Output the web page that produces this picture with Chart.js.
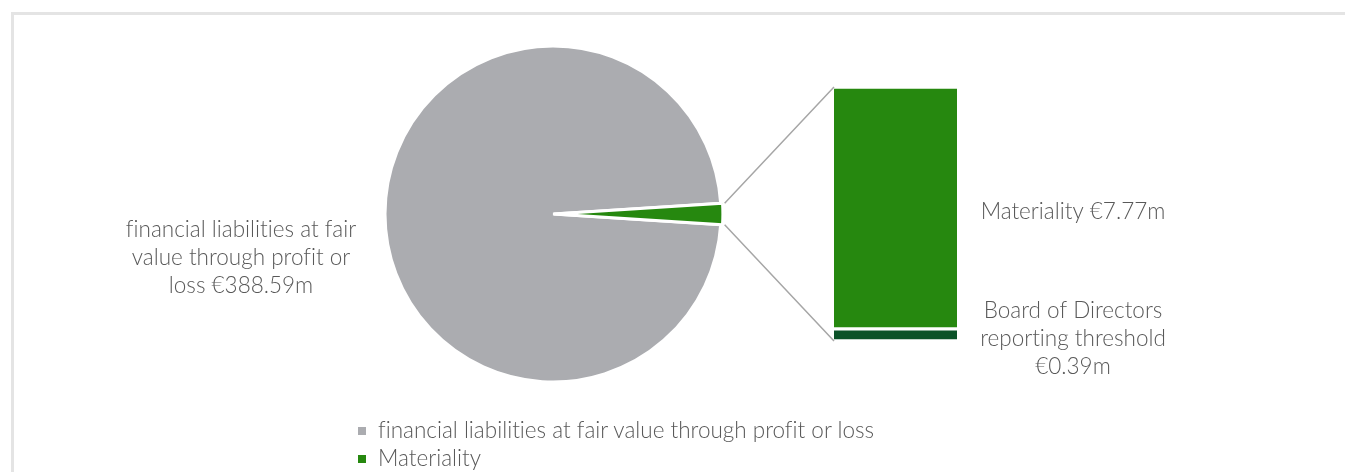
<!DOCTYPE html>
<html>
<head>
<meta charset="utf-8">
<script src="https://cdn.jsdelivr.net/npm/chart.js@4.4.1/dist/chart.umd.min.js"></script>
<style>
  html, body { margin: 0; padding: 0; background: #fff; overflow: hidden; }
  body { width: 1345px; height: 472px; position: relative; font-family: Lato, "Open Sans", sans-serif; }
  #frame { position: absolute; left: 11px; top: 12px; width: 1400px; height: 500px;
           border-top: 3px solid #e4e4e4; border-left: 3px solid #e4e4e4; }
  canvas { position: absolute; left: 0; top: 0; }
  #legend { position: absolute; left: 358px; top: 416px; font-weight: 300; font-size: 22.5px; color: #595959;
            font-variant-ligatures: none; }
  #legend div { height: 28px; line-height: 28px; white-space: nowrap; }
  #legend span { display: inline-block; width: 8px; height: 8px; margin-right: 12px; vertical-align: middle; position: relative; top: -1px; }
</style>
</head>
<body>
<div id="frame"></div>
<canvas id="pieChart" width="1345" height="472"></canvas>
<canvas id="barChart" width="1345" height="472"></canvas>
<div id="legend"></div>
<script>
// pie part
var pieLabels = ['financial liabilities at fair value through profit or loss', 'Materiality'];
var pieValues = [388.59, 8.16]; // second slice = sum of the bar below
var pieColors = ['#abacb0', '#26880f'];
var pieText = ['financial liabilities at fair', 'value through profit or', 'loss €388.59m'];

// bar part (stacked, bottom first)
var barLabels = ['Board of Directors reporting threshold', 'Materiality'];
var barValues = [0.39, 7.77];
var barColors = ['#0b5228', '#26880f'];
var barText = [['Board of Directors', 'reporting threshold', '€0.39m'], ['Materiality €7.77m']];

var textColor = '#595959';
var textFont = '300 22.5px Lato, "Open Sans", sans-serif';

var pieTotal = pieValues[0] + pieValues[1];
var barTotal = barValues[0] + barValues[1];
var greenAngle = 360 * pieValues[1] / pieTotal;

function drawLines(ctx, lines, x, y, gap) {
    var start = y - (lines.length - 1) * gap / 2;
    lines.forEach(function (t, i) {
        ctx.fillText(t, x, start + i * gap);
    });
}

function setText(ctx) {
    ctx.font = textFont;
    ctx.fillStyle = textColor;
    ctx.textAlign = 'center';
    ctx.textBaseline = 'middle';
    ctx.textRendering = 'optimizeSpeed'; // no ligatures
}

var pieTextPlugin = {
    id: 'pieText',
    afterDatasetsDraw: function (chart) {
        var arc = chart.getDatasetMeta(0).data[0];
        var ctx = chart.ctx;
        ctx.save();
        setText(ctx);
        drawLines(ctx, pieText, arc.x - 312, arc.y + 44, 28);
        ctx.restore();
    }
};

var pieChart = new Chart(document.getElementById('pieChart').getContext('2d'), {
    type: 'pie',
    data: {
        labels: pieLabels,
        datasets: [{
            data: pieValues,
            backgroundColor: pieColors,
            borderColor: '#ffffff',
            borderWidth: 3,
            offset: [0, 4]
        }]
    },
    options: {
        responsive: false,
        animation: false,
        radius: 168,
        rotation: 90 + greenAngle / 2,
        layout: { padding: { left: 0, right: 239, top: 0, bottom: 44 } },
        plugins: { legend: { display: false }, tooltip: { enabled: false } }
    },
    plugins: [pieTextPlugin]
});

var connectorPlugin = {
    id: 'connector',
    afterDatasetsDraw: function (chart) {
        var ctx = chart.ctx;
        var arc = pieChart.getDatasetMeta(0).data[1];
        var p = arc.getProps(['x', 'y', 'startAngle', 'endAngle', 'outerRadius']);
        var mid = (p.startAngle + p.endAngle) / 2;
        var ox = p.x + 4 * Math.cos(mid), oy = p.y + 4 * Math.sin(mid);
        var top = chart.getDatasetMeta(1).data[0];
        var bottom = chart.getDatasetMeta(0).data[0];
        var left = top.x - top.width / 2;

        ctx.save();
        ctx.strokeStyle = '#a6a6a6';
        ctx.lineWidth = 1.5;
        ctx.beginPath();
        ctx.moveTo(ox + p.outerRadius * Math.cos(p.startAngle), oy + p.outerRadius * Math.sin(p.startAngle));
        ctx.lineTo(left, top.y);
        ctx.moveTo(ox + p.outerRadius * Math.cos(p.endAngle), oy + p.outerRadius * Math.sin(p.endAngle));
        ctx.lineTo(left, bottom.base);
        ctx.stroke();

        // labels beside the bar
        setText(ctx);
        var right = top.x + top.width / 2;
        [bottom, top].forEach(function (el, i) {
            var yc = (el.y + el.base) / 2;
            drawLines(ctx, barText[i], right + 116, yc + 4, 28);
        });
        ctx.restore();
    }
};

new Chart(document.getElementById('barChart').getContext('2d'), {
    type: 'bar',
    data: {
        labels: [''],
        datasets: barValues.map(function (v, i) {
            return {
                label: barLabels[i],
                data: [v],
                backgroundColor: barColors[i],
                borderColor: '#ffffff',
                borderWidth: { top: 2, bottom: 2, left: 0, right: 0 },
                borderSkipped: false,
                barThickness: 123
            };
        })
    },
    options: {
        responsive: false,
        animation: false,
        layout: { padding: { left: 775, right: 329, top: 87, bottom: 131 } },
        scales: {
            x: { stacked: true, display: false },
            y: { stacked: true, display: false, min: 0, max: barTotal }
        },
        plugins: { legend: { display: false }, tooltip: { enabled: false } }
    },
    plugins: [connectorPlugin]
});

// legend
var legend = document.getElementById('legend');
pieLabels.forEach(function (name, i) {
    var row = document.createElement('div');
    var box = document.createElement('span');
    box.style.background = pieColors[i];
    row.appendChild(box);
    row.appendChild(document.createTextNode(name));
    legend.appendChild(row);
});
</script>
</body>
</html>
